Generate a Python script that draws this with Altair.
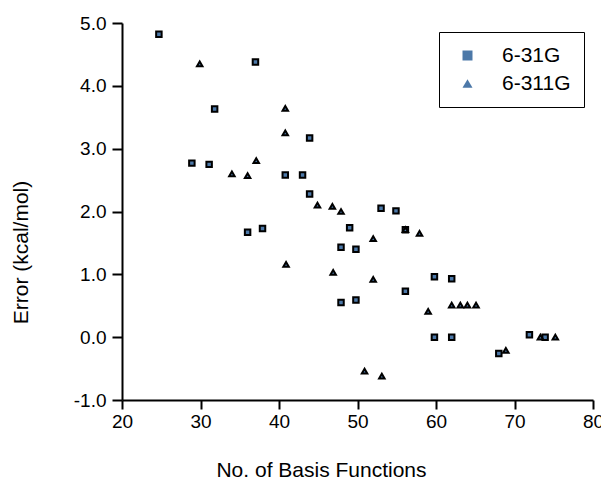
import altair as alt
import pandas as pd

series = ["6-31G", "6-311G"]

# 6-31G (open squares)
sq_x = [24.7, 37.0, 31.8, 43.9, 28.9, 31.1, 40.8, 43.0, 43.9, 53.0, 54.9, 36.0, 37.9, 49.0,
        56.1, 47.9, 49.8, 59.8, 62.0, 56.1, 47.9, 49.8, 59.8, 62.0, 71.9, 73.9, 68.0]
sq_y = [4.82, 4.38, 3.63, 3.17, 2.77, 2.75, 2.58, 2.58, 2.28, 2.05, 2.01, 1.67, 1.73, 1.74,
        1.71, 1.43, 1.40, 0.96, 0.93, 0.73, 0.55, 0.59, 0.0, 0.0, 0.04, 0.0, -0.26]

# 6-311G (filled triangles)
tri_x = [29.9, 40.8, 40.8, 34.0, 37.1, 36.0, 44.9, 46.8, 47.9, 52.0, 56.1, 57.9, 40.9, 46.9,
         52.0, 59.0, 62.0, 63.1, 64.0, 65.1, 73.3, 75.2, 68.9, 50.9, 53.1]
tri_y = [4.35, 3.64, 3.25, 2.60, 2.81, 2.57, 2.10, 2.08, 2.00, 1.57, 1.71, 1.65, 1.16, 1.03,
         0.92, 0.41, 0.51, 0.51, 0.51, 0.51, 0.0, 0.0, -0.21, -0.54, -0.62]

x_major = [20, 30, 40, 50, 60, 70, 80]
y_major = [-1.0, 0.0, 1.0, 2.0, 3.0, 4.0, 5.0]

rows = [{"basis": x, "error": y, "set": series[0]} for x, y in zip(sq_x, sq_y)]
rows += [{"basis": x, "error": y, "set": series[1]} for x, y in zip(tri_x, tri_y)]
df = pd.DataFrame(rows)

FONT = "Liberation Sans"

xscale = alt.Scale(domain=[20, 80], nice=False, zero=False)
yscale = alt.Scale(domain=[-1, 5], nice=False, zero=False)

chart = alt.Chart(df).mark_point(
    filled=True, stroke="black", strokeWidth=2, opacity=1
).encode(
    x=alt.X(
        "basis:Q",
        scale=xscale,
        axis=alt.Axis(
            orient="bottom",
            title="No. of Basis Functions",
            values=x_major,
            tickSize=9,
            tickColor="black",
            tickWidth=2,
            labelFlush=False,
            labelOverlap=False,
            labelPadding=3,
            labelFontSize=19,
            titleFontSize=21,
            titleX=199,
            titleY=70,
            titleAlign="center",
            titleBaseline="middle",
        ),
    ),
    y=alt.Y(
        "error:Q",
        scale=yscale,
        axis=alt.Axis(
            orient="left",
            title="Error (kcal/mol)",
            values=y_major,
            labelExpr="(datum.value < -0.001 ? '-' : '') + format(abs(datum.value), '.1f')",
            tickSize=10,
            tickColor="black",
            tickWidth=2,
            labelFlush=False,
            labelOverlap=False,
            labelPadding=6,
            labelFontSize=19,
            titleFontSize=21,
            titleAngle=270,
            titleX=-101,
            titleY=229,
            titleAlign="center",
            titleBaseline="middle",
        ),
    ),
    shape=alt.Shape(
        "set:N",
        scale=alt.Scale(domain=series, range=["square", "triangle-up"]),
        legend=alt.Legend(title=None, orient="none", legendX=317, legendY=9,
                          strokeColor="black", fillColor="white", padding=13,
                          labelFontSize=21, labelOffset=24, rowPadding=6,
                          symbolOffset=5, symbolStrokeColor="black", symbolStrokeWidth=2,
                          symbolFillColor="white"),
    ),
).properties(
    width=471,
    height=377,
    autosize="none",
    padding={"left": 114, "top": 15, "right": 8, "bottom": 78},
).configure_view(
    stroke=None
).configure_axis(
    grid=False,
    domainColor="black",
    domainWidth=2,
    labelColor="black",
    titleColor="black",
    labelFont=FONT,
    titleFont=FONT,
    titleFontWeight="normal",
)

chart.save("out.html", embed_options={"renderer": "svg", "actions": False})
